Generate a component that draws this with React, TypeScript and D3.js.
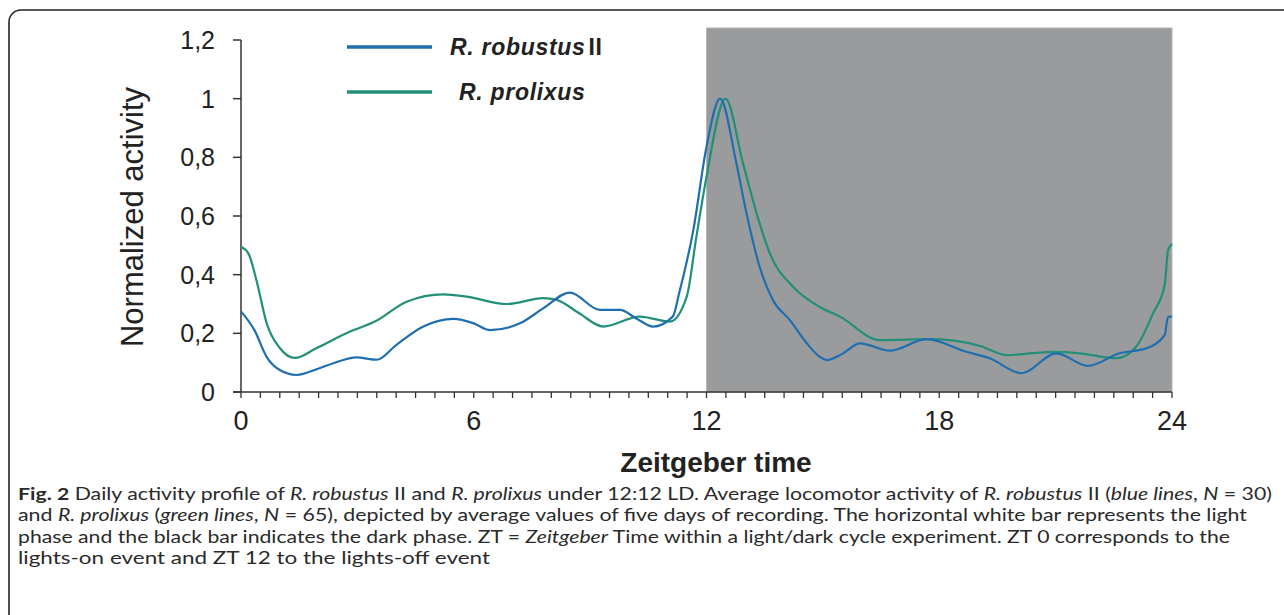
import React from "react";
import * as d3 from "d3";

// ---- data ----
const robustusHours = [0, 0.35, 0.66, 1.0, 1.43, 2.0, 2.38, 2.98, 3.5, 4.0, 4.7, 5.47, 6.0, 6.42, 7.19, 7.79, 8.48, 9.25, 9.77, 10.2, 10.62, 11.13, 11.3, 11.66, 12.0, 12.35, 12.77, 13.03, 13.37, 13.71, 14.15, 14.58, 14.92, 15.1, 15.5, 15.95, 16.73, 17.67, 18.7, 19.3, 20.12, 21.02, 21.83, 22.65, 23.34, 23.81, 23.9, 24];
const robustusValues = [0.275, 0.21, 0.12, 0.075, 0.058, 0.08, 0.098, 0.118, 0.11, 0.16, 0.223, 0.249, 0.234, 0.211, 0.234, 0.285, 0.339, 0.28, 0.28, 0.25, 0.223, 0.257, 0.34, 0.552, 0.836, 1.0, 0.78, 0.61, 0.427, 0.314, 0.245, 0.167, 0.12, 0.109, 0.13, 0.166, 0.141, 0.18, 0.137, 0.115, 0.064, 0.132, 0.089, 0.132, 0.149, 0.194, 0.257, 0.257];

const prolixusHours = [0, 0.2, 0.4, 0.66, 1.0, 1.39, 1.95, 2.81, 3.45, 4.27, 5.21, 5.82, 6.85, 7.79, 8.14, 8.7, 9.34, 10.28, 11.06, 11.49, 11.74, 12.0, 12.49, 12.94, 13.29, 13.63, 14.23, 14.92, 15.44, 16.47, 17.84, 19.05, 19.73, 20.93, 21.62, 22.57, 23.08, 23.51, 23.81, 23.9, 24];
const prolixusValues = [0.495, 0.47, 0.38, 0.235, 0.15, 0.116, 0.15, 0.206, 0.24, 0.308, 0.333, 0.325, 0.3, 0.32, 0.314, 0.27, 0.223, 0.257, 0.24, 0.325, 0.53, 0.734, 1.0, 0.78, 0.61, 0.473, 0.359, 0.29, 0.257, 0.177, 0.18, 0.157, 0.126, 0.137, 0.132, 0.115, 0.155, 0.268, 0.365, 0.484, 0.505];

const seriesNames = ["R. robustus", "R. prolixus"];
const xMajorTicks = [0, 6, 12, 18, 24];
const yTicks = [0, 0.2, 0.4, 0.6, 0.8, 1, 1.2];
const darkPhase = [12, 24];

const BLUE = "#1f6fb0";
const GREEN = "#229079";
const GRAY = "#9a9b9d";
const AX = "#333";

export default function App() {
  const W = 1284, H = 615;
  const x = d3.scaleLinear().domain([0, 24]).range([241, 1172]);
  const y = d3.scaleLinear().domain([0, 1.2]).range([392, 40]);
  const line = d3
    .line<[number, number]>()
    .x((d) => x(d[0]))
    .y((d) => y(d[1]))
    .curve(d3.curveMonotoneX);
  const blue = robustusHours.map((h, i) => [h, robustusValues[i]] as [number, number]);
  const green = prolixusHours.map((h, i) => [h, prolixusValues[i]] as [number, number]);
  const minor = d3.range(0, 24.01, 0.5);
  const fmt = (v: number) => d3.format("~g")(+v.toFixed(1)).replace(".", ",");
  const arial = "'Liberation Sans', Arial, sans-serif";
  const cap = "Lato, 'Open Sans', sans-serif";

  return (
    <svg width={W} height={H} style={{ position: "absolute", left: 0, top: 0 }} fontFamily={arial}>
      <rect x={0} y={0} width={W} height={H} fill="#fff" />
      <rect x={9} y={10} width={1300} height={640} rx={12} fill="none" stroke="#222" strokeWidth={1.6} />
      {/* dark phase */}
      <rect x={x(darkPhase[0])} y={28} width={x(darkPhase[1]) - x(darkPhase[0])} height={y(0) - 28} fill={GRAY} stroke="#b5b6b8" strokeWidth={1} />
      {/* axes */}
      <line x1={x(0)} x2={x(0)} y1={y(1.2)} y2={y(0)} stroke={AX} strokeWidth={1.5} />
      <line x1={x(0) - 8} x2={x(24)} y1={y(0)} y2={y(0)} stroke={AX} strokeWidth={1.5} />
      {yTicks.map((t) => (
        <g key={"y" + t}>
          <line x1={x(0) - 8} x2={x(0)} y1={y(t)} y2={y(t)} stroke={AX} strokeWidth={1.5} />
          <text x={215} y={y(t)} dy="0.36em" textAnchor="end" fontSize={25} fill="#222">
            {fmt(t)}
          </text>
        </g>
      ))}
      {minor.map((t) => (
        <line key={"m" + t} x1={x(t)} x2={x(t)} y1={y(0)} y2={y(0) + 6} stroke={AX} strokeWidth={1.3} />
      ))}
      {xMajorTicks.map((t) => (
        <text key={"x" + t} x={x(t)} y={430} textAnchor="middle" fontSize={27} fill="#222">
          {t}
        </text>
      ))}
      <text transform={`translate(143,217) rotate(-90)`} textAnchor="middle" fontSize={31} fill="#222">
        Normalized activity
      </text>
      <text x={716} y={472} textAnchor="middle" fontSize={28} fontWeight="bold" fill="#222">
        Zeitgeber time
      </text>
      {/* curves */}
      <path d={line(green) || ""} fill="none" stroke={GREEN} strokeWidth={2.2} />
      <path d={line(blue) || ""} fill="none" stroke={BLUE} strokeWidth={2.2} />
      {/* legend */}
      <line x1={347} x2={432} y1={47} y2={47} stroke={BLUE} strokeWidth={3.5} />
      <line x1={347} x2={432} y1={92} y2={92} stroke={GREEN} strokeWidth={3.5} />
      <text x={450} y={55} fontSize={23} fontWeight="bold" fill="#222" letterSpacing={0.7}>
        <tspan fontStyle="italic">{seriesNames[0]}</tspan>
        <tspan dx={3}>II</tspan>
      </text>
      <text x={459} y={100} fontSize={23} fontWeight="bold" fontStyle="italic" fill="#222" letterSpacing={0.7}>
        {seriesNames[1]}
      </text>
      {/* caption */}
      <g fontFamily={cap} fontSize={17.5} fill="#2a2a2a">
        <text x={18} y={500} textLength={1254} lengthAdjust="spacingAndGlyphs">
          <tspan fontWeight="bold">Fig. 2</tspan> Daily activity profile of <tspan fontStyle="italic">R. robustus</tspan> II and{" "}
          <tspan fontStyle="italic">R. prolixus</tspan> under 12:12 LD. Average locomotor activity of{" "}
          <tspan fontStyle="italic">R. robustus</tspan> II (<tspan fontStyle="italic">blue lines</tspan>,{" "}
          <tspan fontStyle="italic">N</tspan> = 30)
        </text>
        <text x={18} y={521.3} textLength={1229} lengthAdjust="spacingAndGlyphs">
          and <tspan fontStyle="italic">R. prolixus</tspan> (<tspan fontStyle="italic">green lines</tspan>,{" "}
          <tspan fontStyle="italic">N</tspan> = 65), depicted by average values of five days of recording. The horizontal white bar represents the light
        </text>
        <text x={18} y={542.6} textLength={1212} lengthAdjust="spacingAndGlyphs">
          phase and the black bar indicates the dark phase. ZT = <tspan fontStyle="italic">Zeitgeber</tspan> Time within a light/dark cycle experiment. ZT 0 corresponds to the
        </text>
        <text x={18} y={564} textLength={472} lengthAdjust="spacingAndGlyphs">
          lights-on event and ZT 12 to the lights-off event
        </text>
      </g>
    </svg>
  );
}
